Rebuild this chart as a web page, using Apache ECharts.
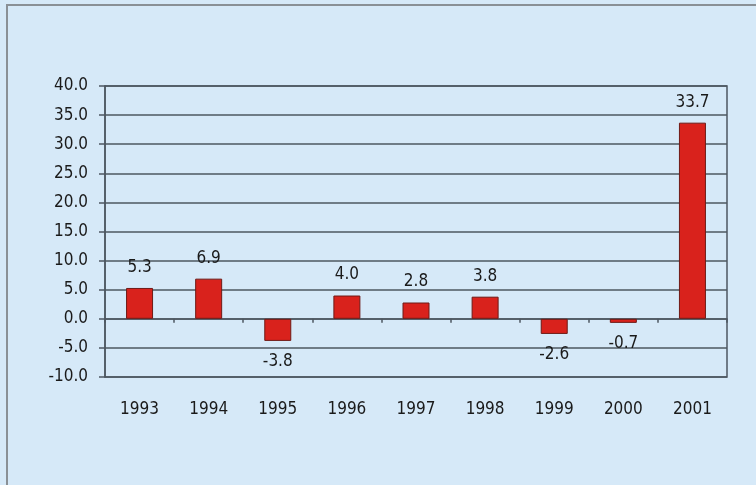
<!DOCTYPE html>
<html>
<head>
<meta charset="utf-8">
<script src="https://cdn.jsdelivr.net/npm/echarts@6/dist/echarts.min.js"></script>
<style>
  html, body { margin: 0; padding: 0; background: #d6e9f8; }
  #chart { width: 756px; height: 485px; }
</style>
</head>
<body>
<div id="chart"></div>
<script>
// Annual percentage change, 1993–2001
const years = ['1993', '1994', '1995', '1996', '1997', '1998', '1999', '2000', '2001'];
const values = [5.3, 6.9, -3.8, 4.0, 2.8, 3.8, -2.6, -0.7, 33.7];
const yTicks = { min: -10, max: 40, step: 5 };

const FONT = "'Liberation Sans Narrow', 'DejaVu Sans Condensed', sans-serif";
const GRID_COLOR = '#4d5761';

const chart = echarts.init(document.getElementById('chart'), null, { renderer: 'canvas' });

chart.setOption({
  backgroundColor: '#d6e9f8',
  animation: false,
  graphic: [{
    type: 'rect',
    shape: { x: 7, y: 5, width: 800, height: 600 },
    style: { fill: 'none', stroke: '#8a9096', lineWidth: 2 },
    silent: true
  }],
  grid: {
    left: 105, right: 29, top: 86, bottom: 108,
    show: true, borderColor: GRID_COLOR, borderWidth: 1.5,
    backgroundColor: 'transparent'
  },
  xAxis: [{
    type: 'category',
    data: years,
    axisLine: { onZero: true, lineStyle: { color: GRID_COLOR, width: 1.5 } },
    axisTick: { show: true, alignWithLabel: false, length: 4, lineStyle: { color: GRID_COLOR, width: 1.5 } },
    axisLabel: { show: false }
  }, {
    type: 'category',
    data: years,
    position: 'bottom',
    axisLine: { show: false, onZero: false },
    axisTick: { show: false },
    axisLabel: { margin: 24, color: '#1a1a1a', fontFamily: FONT, fontSize: 17 }
  }],
  yAxis: {
    type: 'value',
    min: yTicks.min, max: yTicks.max, interval: yTicks.step,
    axisLine: { show: true, lineStyle: { color: GRID_COLOR, width: 1.5 } },
    axisTick: { show: true, length: 6, lineStyle: { color: GRID_COLOR, width: 1.5 } },
    splitLine: { show: true, lineStyle: { color: GRID_COLOR, width: 1.5 } },
    axisLabel: {
      margin: 17, color: '#1a1a1a', fontFamily: FONT, fontSize: 17,
      formatter: v => v.toFixed(1)
    }
  },
  series: [{
    type: 'bar',
    xAxisIndex: 0,
    barWidth: 27,
    itemStyle: { color: '#d9221c', borderColor: '#6e1a16', borderWidth: 1 },
    data: values.map(v => ({
      value: v,
      label: { position: v >= 0 ? 'top' : 'bottom' }
    })),
    label: {
      show: true,
      distance: 12,
      color: '#1a1a1a',
      fontFamily: FONT,
      fontSize: 17,
      formatter: p => p.value.toFixed(1)
    }
  }]
});
</script>
</body>
</html>
